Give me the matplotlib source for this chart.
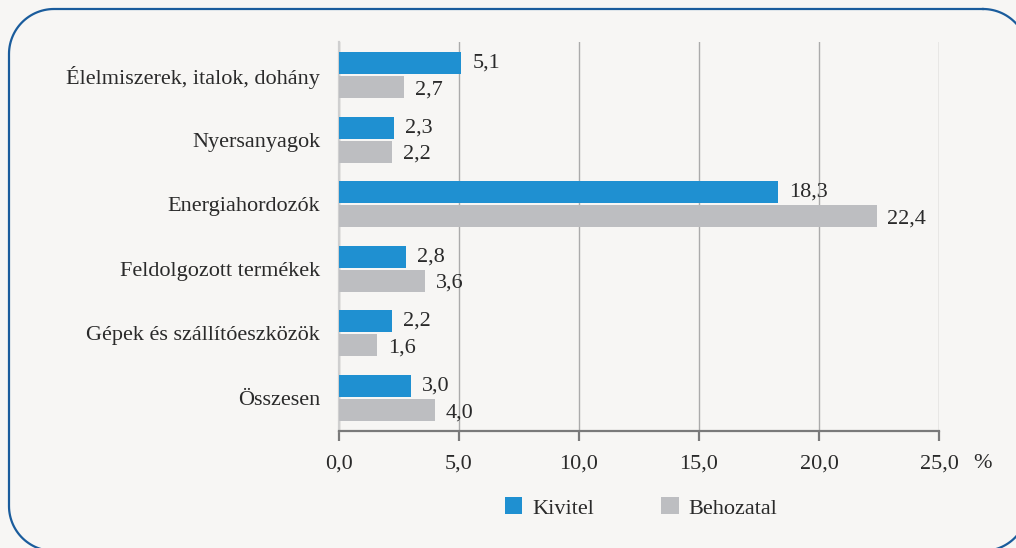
import matplotlib

matplotlib.use("Agg")
import matplotlib.pyplot as plt
from matplotlib.patches import Patch
import numpy as np

categories = [
    "Élelmiszerek, italok, dohány",
    "Nyersanyagok",
    "Energiahordozók",
    "Feldolgozott termékek",
    "Gépek és szállítóeszközök",
    "Összesen",
]
kivitel = [5.1, 2.3, 18.3, 2.8, 2.2, 3.0]
behozatal = [2.7, 2.2, 22.4, 3.6, 1.6, 4.0]
xticks = [0, 5, 10, 15, 20, 25]

BG = "#f7f6f4"
BLUE = "#1f90d1"
GREY = "#bdbec1"
TEXT = "#2a2a2a"
FS = 16

plt.rcParams["font.family"] = ["Liberation Serif", "DejaVu Serif"]


def fmt(v):
    return f"{v:.1f}".replace(".", ",")


def rounded_rect(x0, y0, x1, y1, r, n=30):
    # outline of a rounded rectangle, pixel units, y pointing down
    pts = []
    corners = [(x1 - r, y0 + r, -90, 0), (x1 - r, y1 - r, 0, 90),
               (x0 + r, y1 - r, 90, 180), (x0 + r, y0 + r, 180, 270)]
    for cx, cy, a0, a1 in corners:
        t = np.radians(np.linspace(a0, a1, n))
        pts.append(np.column_stack([cx + r * np.cos(t), cy + r * np.sin(t)]))
    pts = np.vstack(pts + [pts[0][:1]])
    return pts[:, 0], pts[:, 1]


fig = plt.figure(figsize=(10.16, 5.48), dpi=100, facecolor=BG)

# background axes in pixel units for the rounded frame
bg = fig.add_axes([0, 0, 1, 1])
bg.set_xlim(0, 1016)
bg.set_ylim(548, 0)
bg.axis("off")
fx, fy = rounded_rect(9, 9, 1028, 551, 45)
bg.plot(fx, fy, color="#1a5c9c", linewidth=1.6, clip_on=False)

ax = fig.add_axes([339 / 1016, 117 / 548, 600 / 1016, 389 / 548])
ax.set_facecolor(BG)

y = np.arange(len(categories))
h = 0.34
off = 0.186
ax.barh(y - off, kivitel, height=h, color=BLUE, linewidth=0, zorder=3)
ax.barh(y + off, behozatal, height=h, color=GREY, linewidth=0, zorder=3)

for yi, v in zip(y, kivitel):
    ax.text(v + 0.45, yi - off, fmt(v), va="center", ha="left", fontsize=FS, color=TEXT)
for yi, v in zip(y, behozatal):
    ax.text(v + 0.45, yi + off + 0.04, fmt(v), va="center", ha="left", fontsize=FS, color=TEXT)

ax.set_xlim(0, 25)
ax.set_ylim(5.51, -0.51)
ax.set_xticks(xticks)
ax.set_xticklabels([fmt(t) for t in xticks], fontsize=FS, color=TEXT)
ax.set_yticks(y)
ax.set_yticklabels(categories, fontsize=FS, color=TEXT)
ax.tick_params(axis="y", length=0, pad=13.5)
ax.tick_params(axis="x", length=7, width=1.6, color="#7a7a7a", pad=10)

ax.grid(axis="x", color="#ababab", linewidth=1.0, zorder=0)
ax.set_axisbelow(True)
for s in ["top", "right"]:
    ax.spines[s].set_visible(False)
ax.spines["left"].set_color("#cfcfcf")
ax.spines["left"].set_linewidth(1.6)
ax.spines["bottom"].set_color("#7a7a7a")
ax.spines["bottom"].set_linewidth(1.6)

fig.text(982 / 1016, (548 - 463) / 548, "%", ha="center", va="center", fontsize=FS, color=TEXT)

handles = [Patch(facecolor=BLUE, label="Kivitel"), Patch(facecolor=GREY, label="Behozatal")]
leg = fig.legend(handles=handles, loc="center", bbox_to_anchor=(641 / 1016, 40 / 548), ncol=2,
                 frameon=False, fontsize=FS, handlelength=0.8, handleheight=0.8,
                 handletextpad=0.45, columnspacing=3.0)
for t in leg.get_texts():
    t.set_color(TEXT)

fig.savefig("out.png", dpi=100, facecolor=BG)
